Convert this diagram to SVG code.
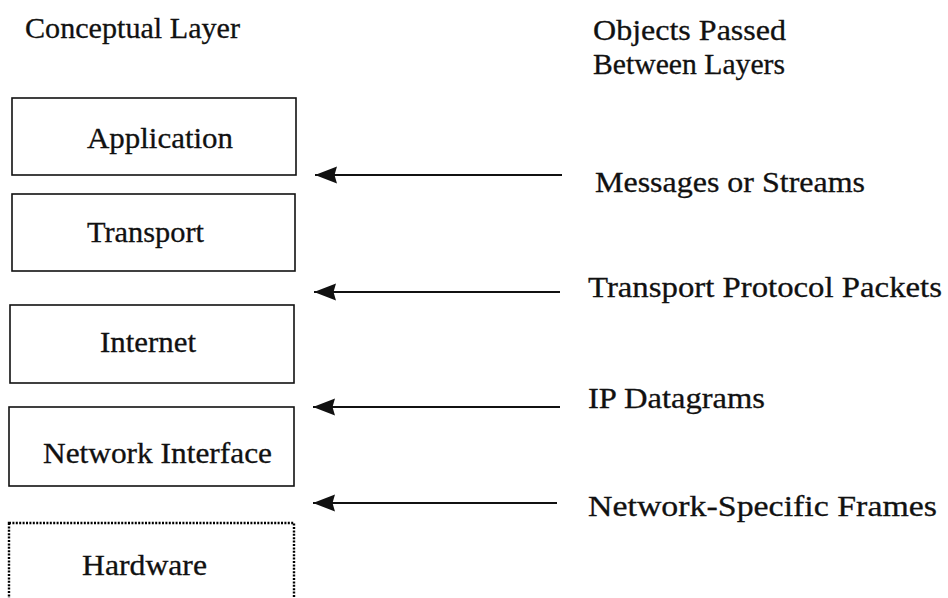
<svg xmlns="http://www.w3.org/2000/svg" width="948" height="598" viewBox="0 0 948 598">
  <style>
    text { font-family: "Liberation Serif", "Times New Roman", Times, serif; font-size: 30px; fill: #111; stroke: #111; stroke-width: 0.3; }
    .layer rect { fill: #fff; stroke: #111; stroke-width: 1.6; }
    .layer.dotted rect { stroke: #000; stroke-width: 2.4; stroke-dasharray: 2 1.4; }
    .conn line { stroke: #111; stroke-width: 1.8; }
  </style>
  <defs>
    <!-- solid arrowhead, tip at the line end -->
    <marker id="head" viewBox="0 0 22 20" refX="22" refY="10" markerWidth="22" markerHeight="20" markerUnits="userSpaceOnUse" orient="auto">
      <path d="M0,1.5 L22,10 L0,18.5 L2.5,10 Z" fill="#111"/>
    </marker>
  </defs>
  <rect width="948" height="598" fill="#fff"/>

  <!-- column headings -->
  <text x="25" y="38" textLength="215" lengthAdjust="spacingAndGlyphs">Conceptual Layer</text>
  <text x="593" y="40" textLength="193" lengthAdjust="spacingAndGlyphs">Objects Passed</text>
  <text x="593" y="74" textLength="192" lengthAdjust="spacingAndGlyphs">Between Layers</text>

  <!-- protocol layers -->
  <g id="application" class="layer">
    <rect x="12" y="98" width="284" height="77"/>
    <text x="87" y="148" textLength="146" lengthAdjust="spacingAndGlyphs">Application</text>
  </g>
  <g id="transport" class="layer">
    <rect x="12" y="194" width="283" height="77"/>
    <text x="87" y="242" textLength="117" lengthAdjust="spacingAndGlyphs">Transport</text>
  </g>
  <g id="internet" class="layer">
    <rect x="10" y="305" width="284" height="78"/>
    <text x="100" y="352" textLength="96" lengthAdjust="spacingAndGlyphs">Internet</text>
  </g>
  <g id="network-interface" class="layer">
    <rect x="9" y="407" width="285" height="79"/>
    <text x="43" y="463" textLength="229" lengthAdjust="spacingAndGlyphs">Network Interface</text>
  </g>
  <g id="hardware" class="layer dotted">
    <rect x="9" y="523" width="285" height="90"/>
    <text x="82" y="575" textLength="125" lengthAdjust="spacingAndGlyphs">Hardware</text>
  </g>

  <!-- arrows between layers -->
  <g id="connectors" class="conn">
    <line x1="562" y1="175" x2="315" y2="175" marker-end="url(#head)"/>
    <line x1="560" y1="292" x2="314" y2="292" marker-end="url(#head)"/>
    <line x1="560" y1="407" x2="313" y2="407" marker-end="url(#head)"/>
    <line x1="557" y1="503" x2="313" y2="503" marker-end="url(#head)"/>
  </g>

  <!-- object labels -->
  <g id="labels">
    <text x="595" y="192" textLength="270" lengthAdjust="spacingAndGlyphs">Messages or Streams</text>
    <text x="588" y="297" textLength="354" lengthAdjust="spacingAndGlyphs">Transport Protocol Packets</text>
    <text x="588" y="408" textLength="177" lengthAdjust="spacingAndGlyphs">IP Datagrams</text>
    <text x="588" y="516" textLength="349" lengthAdjust="spacingAndGlyphs">Network-Specific Frames</text>
  </g>
</svg>
